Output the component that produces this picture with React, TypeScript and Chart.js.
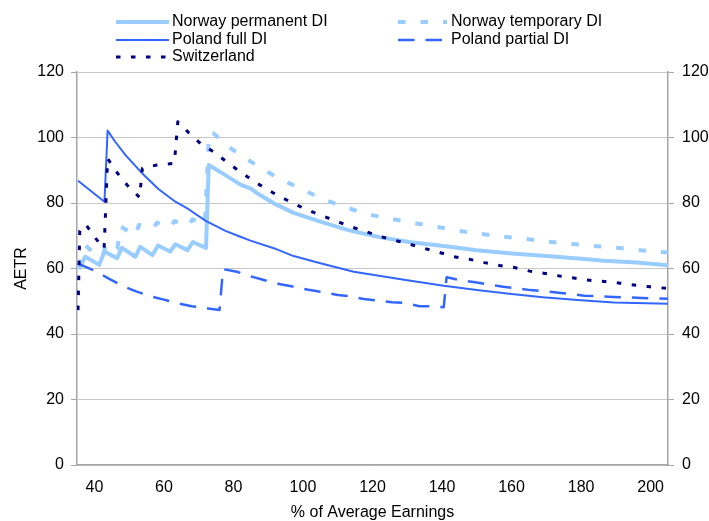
import React, { useEffect, useRef } from "react";
import { Chart, registerables } from "chart.js";

Chart.register(...registerables);

// ---------- data ----------
const xTickValues = [40, 60, 80, 100, 120, 140, 160, 180, 200];

const seriesNames = [
  "Norway permanent DI",
  "Norway temporary DI",
  "Poland full DI",
  "Poland partial DI",
  "Switzerland",
];

const norwayPermX = [35.5, 37.4, 41.4, 42.9, 46.5, 47.9, 51.8, 53.2, 56.7, 58.3, 61.8, 63.3, 66.8, 68.3, 72.1, 72.9, 77.7, 82, 85, 86.8, 91.6, 97.3, 105, 112.7, 122.3, 131, 140.5, 150, 160, 170, 180, 186.5, 196, 205];
const norwayPermY = [59.8, 63.6, 61.1, 65.2, 63.1, 66.3, 63.6, 66.6, 64.1, 67, 65.2, 67.4, 65.6, 68.1, 66.3, 91.6, 88.5, 85.6, 84.4, 83, 79.9, 77, 74.3, 71.8, 69.5, 68, 66.9, 65.6, 64.6, 63.8, 63, 62.4, 61.8, 61];

const norwayTempX = [35.5, 37.5, 39.5, 42.5, 43.3, 46.6, 47.6, 51.8, 52.8, 57, 58, 62, 63, 67, 68.2, 71.8, 73, 74.3, 79.6, 85.8, 92.5, 99.2, 105.5, 111.7, 118.4, 125.1, 131.4, 138.1, 144.8, 151, 157.7, 164.3, 170.7, 177.2, 183.6, 190.2, 196.9, 205];
const norwayTempY = [60.5, 67, 65.1, 63.8, 67.5, 66.2, 72.8, 70.1, 73.3, 72.2, 74, 72.6, 74.5, 73, 75, 73.5, 101.5, 101.2, 96.4, 92.1, 87.8, 84.5, 81.2, 78.9, 76.6, 75.2, 74, 72.8, 71.5, 70.6, 69.7, 69, 68.2, 67.5, 66.9, 66.3, 65.6, 64.9];

const polandFullX = [35.3, 42.9, 43.8, 46, 48.9, 53.7, 58.5, 63.3, 67.1, 71.9, 77.7, 82, 84.9, 91.6, 97.3, 105, 114.6, 122.3, 130, 140.5, 150, 160, 169, 179, 189.4, 205];
const polandFullY = [86.8, 80.4, 102.1, 98.7, 94.7, 89.1, 84.2, 80.4, 78.1, 74.6, 71.5, 69.7, 68.5, 66.2, 63.8, 61.6, 59, 57.7, 56.4, 54.7, 53.4, 52.2, 51.2, 50.4, 49.6, 49.2];

const polandPartX = [35.3, 40.7, 44, 48.4, 52, 56.6, 60, 64.2, 68, 72.7, 76, 77, 81, 85, 89, 93.5, 97, 101.6, 105, 110, 113, 117.5, 121, 125.6, 129, 133.5, 136.2, 140.5, 141.3, 145, 150, 153, 157.6, 161, 165.4, 169, 173.6, 177, 181, 185, 189.3, 193, 197.5, 205];
const polandPartY = [61.5, 59, 57, 54.5, 53, 51.4, 50.5, 49.3, 48.5, 47.8, 47.3, 59.8, 59, 57.6, 56.4, 55.2, 54.5, 53.5, 52.9, 51.9, 51.6, 50.7, 50.3, 49.7, 49.5, 48.5, 48.5, 48.2, 57.3, 56.5, 55.7, 55.2, 54.4, 54, 53.4, 53.1, 52.6, 52.2, 51.7, 51.5, 51.3, 51.2, 51, 50.8];

const switzX = [35.3, 35.8, 37.5, 40.3, 42.8, 43.8, 46.5, 49.4, 53, 53.8, 58, 63, 64, 67.1, 70.5, 74.3, 78.5, 82.5, 86.8, 91.6, 95.9, 100.2, 104.5, 108.8, 113.1, 117.5, 121.8, 126.1, 130.4, 134.7, 139.3, 143.3, 147.9, 152.2, 156.6, 160.8, 165.2, 169.7, 173.8, 178.4, 182.5, 186.8, 191.3, 195.8, 199.9, 205];
const switzY = [47.3, 71.5, 73.5, 69.3, 66, 93.6, 89.3, 85.5, 81.7, 90.6, 91.6, 92.1, 104.8, 101.5, 98.2, 95.6, 92.2, 89.1, 86, 83, 80.6, 78.4, 76.5, 74.8, 73, 71.5, 69.9, 68.7, 67.5, 66.2, 64.9, 63.6, 62.8, 61.8, 60.9, 60.3, 59.2, 58.5, 57.7, 57, 56.4, 56, 55.5, 54.9, 54.4, 53.9];

// ---------- styles / layout ----------
const FONT_FAMILY = "'Liberation Sans', Arial, sans-serif";
const FONT_SIZE = 16;
const LIGHT_BLUE = "#99CCFF";
const MID_BLUE = "#3366FF";
const NAVY = "#000080";
const GRID_COLOR = "#C8C8C8";
const AXIS_COLOR = "#A6A6A6";

// legend slots: [sampleStartX, sampleEndX, textX, centerY]
const legendSlots = [
  [116, 169, 172, 22],
  [398, 447, 451, 22],
  [116, 169, 172, 40],
  [398, 447, 451, 40],
  [116, 169, 172, 57],
];

function pts(xs: number[], ys: number[]) {
  return xs.map((x, i) => ({ x, y: ys[i] }));
}

export default function App() {
  const ref = useRef<HTMLCanvasElement>(null);

  useEffect(() => {
    document.body.style.margin = "0";
    const canvas = ref.current;
    if (!canvas) return;

    const legendPlugin = {
      id: "twoColumnLegend",
      afterDraw(chart: any) {
        const ctx = chart.ctx as CanvasRenderingContext2D;
        ctx.save();
        chart.data.datasets.forEach((ds: any, i: number) => {
          const [x0, x1, tx, cy] = legendSlots[i];
          ctx.beginPath();
          ctx.strokeStyle = ds.borderColor;
          ctx.lineWidth = ds.borderWidth;
          ctx.setLineDash(ds.borderDash || []);
          ctx.lineCap = "butt";
          ctx.moveTo(x0, cy);
          ctx.lineTo(x1, cy);
          ctx.stroke();
          ctx.setLineDash([]);
          ctx.fillStyle = "#000";
          ctx.font = `${FONT_SIZE}px ${FONT_FAMILY}`;
          ctx.textBaseline = "middle";
          ctx.textAlign = "left";
          ctx.fillText(ds.label, tx, cy);
        });
        ctx.restore();
      },
    };

    const tickFont = { family: FONT_FAMILY, size: FONT_SIZE };

    const chart = new Chart(canvas, {
      type: "line",
      data: {
        datasets: [
          {
            label: seriesNames[0],
            data: pts(norwayPermX, norwayPermY),
            borderColor: LIGHT_BLUE,
            borderWidth: 4,
            order: 5,
          },
          {
            label: seriesNames[1],
            data: pts(norwayTempX, norwayTempY),
            borderColor: LIGHT_BLUE,
            borderWidth: 4,
            borderDash: [7.5, 15],
            order: 4,
          },
          {
            label: seriesNames[2],
            data: pts(polandFullX, polandFullY),
            borderColor: MID_BLUE,
            borderWidth: 2,
            order: 3,
          },
          {
            label: seriesNames[3],
            data: pts(polandPartX, polandPartY),
            borderColor: MID_BLUE,
            borderWidth: 2.5,
            borderDash: [16.5, 11],
            order: 2,
          },
          {
            label: seriesNames[4],
            data: pts(switzX, switzY),
            borderColor: NAVY,
            borderWidth: 3,
            borderDash: [4.5, 10.5],
            order: 1,
          },
        ] as any,
      },
      options: {
        animation: false,
        responsive: false,
        parsing: false as any,
        layout: { padding: { top: 72, left: 0, right: 0, bottom: 0 } },
        elements: {
          point: { radius: 0, hoverRadius: 0 },
          line: { tension: 0, fill: false, borderJoinStyle: "round" },
        },
        plugins: {
          legend: { display: false },
          tooltip: { enabled: false },
        },
        scales: {
          x: {
            type: "linear",
            min: 35,
            max: 205,
            afterBuildTicks: (scale: any) => {
              scale.ticks = xTickValues.map((v) => ({ value: v }));
            },
            afterFit: (scale: any) => {
              scale.height = 56;
            },
            grid: { display: false, drawTicks: false },
            border: { display: true, color: AXIS_COLOR, width: 1.5 },
            ticks: {
              color: "#000",
              font: tickFont,
              padding: 13,
              maxRotation: 0,
              autoSkip: false,
            },
            title: {
              display: true,
              text: "% of Average Earnings",
              color: "#000",
              font: { family: FONT_FAMILY, size: FONT_SIZE },
              padding: { top: 0, bottom: -1 },
            },
          },
          y: {
            type: "linear",
            position: "left",
            min: 0,
            max: 120,
            afterFit: (scale: any) => {
              scale.width = 77;
            },
            ticks: { stepSize: 20, color: "#000", font: tickFont, padding: 7 },
            grid: { color: GRID_COLOR, lineWidth: 1, tickLength: 6, tickColor: AXIS_COLOR },
            border: { display: true, color: AXIS_COLOR, width: 1.5 },
            title: {
              display: true,
              text: "AETR",
              color: "#000",
              font: { family: FONT_FAMILY, size: FONT_SIZE },
              padding: { top: 12, bottom: 0 },
            },
          },
          y2: {
            type: "linear",
            position: "right",
            min: 0,
            max: 120,
            afterFit: (scale: any) => {
              scale.width = 41;
            },
            ticks: { stepSize: 20, color: "#000", font: tickFont, padding: 8 },
            grid: { drawOnChartArea: false, tickLength: 6, color: AXIS_COLOR },
            border: { display: true, color: AXIS_COLOR, width: 1.5 },
          },
        },
      } as any,
      plugins: [legendPlugin],
    });

    return () => chart.destroy();
  }, []);

  return (
    <div style={{ width: 709, height: 521 }}>
      <canvas ref={ref} width={709} height={521} style={{ display: "block" }} />
    </div>
  );
}
